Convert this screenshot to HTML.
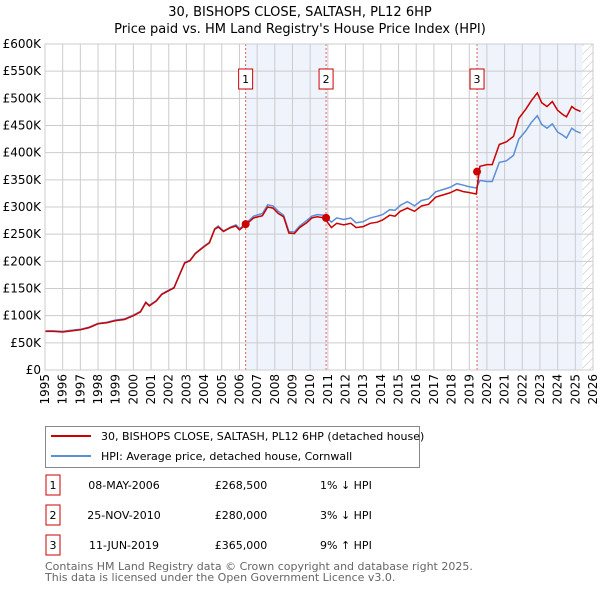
<!DOCTYPE html>
<html><head><meta charset="utf-8"><style>
body{margin:0;background:#fff;font-family:"Liberation Sans","DejaVu Sans",sans-serif;}
svg text{font-family:"DejaVu Sans","Liberation Sans",sans-serif;}
</style></head><body>
<svg id="chart" width="600" height="590" viewBox="0 0 600 590" xmlns="http://www.w3.org/2000/svg">
<defs><pattern id="hatch" width="6" height="6" patternUnits="userSpaceOnUse" patternTransform="rotate(45)"><line x1="0" y1="0" x2="0" y2="6" stroke="#bbb" stroke-width="1"/></pattern></defs>
<text x="300" y="16" font-size="13" text-anchor="middle">30, BISHOPS CLOSE, SALTASH, PL12 6HP</text>
<text x="300" y="33" font-size="13" text-anchor="middle">Price paid vs. HM Land Registry's House Price Index (HPI)</text>
<g id="plot"></g>
<g>
<rect x="45.5" y="426.5" width="374" height="41" fill="#fff" stroke="#888"/>
<line x1="51" y1="436" x2="91" y2="436" stroke="#cc0000" stroke-width="2"/>
<text x="101" y="440" font-size="11">30, BISHOPS CLOSE, SALTASH, PL12 6HP (detached house)</text>
<line x1="51" y1="456" x2="91" y2="456" stroke="#5b8fd6" stroke-width="2"/>
<text x="101" y="460" font-size="11">HPI: Average price, detached house, Cornwall</text>
</g>
<g font-size="11">
<rect x="46" y="475" width="14" height="20" fill="#fff" stroke="#cc0000"/><text x="53" y="489" text-anchor="middle">1</text>
<text x="124" y="489" text-anchor="middle">08-MAY-2006</text><text x="241" y="489" text-anchor="middle">£268,500</text><text x="320" y="489">1% ↓ HPI</text>
<rect x="46" y="505" width="14" height="20" fill="#fff" stroke="#cc0000"/><text x="53" y="519" text-anchor="middle">2</text>
<text x="124" y="519" text-anchor="middle">25-NOV-2010</text><text x="241" y="519" text-anchor="middle">£280,000</text><text x="320" y="519">3% ↓ HPI</text>
<rect x="46" y="535" width="14" height="20" fill="#fff" stroke="#cc0000"/><text x="53" y="549" text-anchor="middle">3</text>
<text x="124" y="549" text-anchor="middle">11-JUN-2019</text><text x="241" y="549" text-anchor="middle">£365,000</text><text x="320" y="549">9% ↑ HPI</text>
</g>
<text x="45" y="570" font-size="11" fill="#666">Contains HM Land Registry data © Crown copyright and database right 2025.</text>
<text x="45" y="581" font-size="11" fill="#666">This data is licensed under the Open Government Licence v3.0.</text>
</svg>
<script>
const yTicks=[0,50,100,150,200,250,300,350,400,450,500,550,600];
const yTickLabels=["£0","£50K","£100K","£150K","£200K","£250K","£300K","£350K","£400K","£450K","£500K","£550K","£600K"];
const xYears=[1995,1996,1997,1998,1999,2000,2001,2002,2003,2004,2005,2006,2007,2008,2009,2010,2011,2012,2013,2014,2015,2016,2017,2018,2019,2020,2021,2022,2023,2024,2025,2026];
const seriesYears=[1995.0,1995.5,1996.0,1996.5,1997.0,1997.5,1998.0,1998.5,1999.0,1999.5,2000.0,2000.4,2000.7,2000.9,2001.3,2001.6,2002.0,2002.3,2002.6,2002.9,2003.2,2003.5,2004.0,2004.3,2004.6,2004.8,2005.1,2005.5,2005.8,2006.0,2006.4,2006.8,2007.3,2007.6,2007.9,2008.2,2008.5,2008.8,2009.1,2009.4,2009.8,2010.1,2010.4,2010.8,2011.2,2011.5,2011.9,2012.3,2012.6,2013.0,2013.4,2013.8,2014.1,2014.5,2014.8,2015.1,2015.5,2015.9,2016.3,2016.7,2017.1,2017.5,2017.9,2018.3,2018.7,2018.9,2019.4,2019.6,2020.0,2020.3,2020.7,2021.1,2021.5,2021.8,2022.2,2022.5,2022.85,2023.1,2023.4,2023.7,2024.0,2024.3,2024.5,2024.8,2025.0,2025.3];
const hpiValues=[72,72,71,73,75,79,86,88,92,94,101,108,125,119,128,140,147,152,175,198,202,215,228,235,260,265,256,263,267,260,271,283,288,304,302,292,285,255,254,265,275,283,286,285,272,280,277,280,271,273,280,283,286,295,294,303,310,302,312,315,328,332,336,343,340,338,335,349,347,347,382,385,395,425,440,455,468,452,445,453,438,432,427,445,440,436];
const priceValues=[71,71,70,72,74,78,85,87,91,93,100,107,124,118,127,139,146,151,174,197,201,214,227,234,259,263,255,262,265,258,268.5,280,284,300,298,288,282,252,251,262,271,280,282,280,262,270,267,270,262,264,270,272,276,285,283,292,298,292,302,305,318,322,326,332,328,327,324,375,378,378,415,420,430,463,480,495,510,492,485,494,478,470,466,485,480,476];
const saleYears=[2006.35,2010.9,2019.44];
const saleValues=[268.5,280,365];
const saleLabels=["1","2","3"];
const NS="http://www.w3.org/2000/svg";
const L=45,R=593,T=44,B=370;
const xs=y=>L+(y-1995)/(2026-1995)*(R-L);
const ys=v=>B-v/600*(B-T);
const g=document.getElementById('plot');
function mk(tag,attrs,parent){const e=document.createElementNS(NS,tag);for(const k in attrs)e.setAttribute(k,attrs[k]);(parent||g).appendChild(e);return e;}
let e;
e=mk('rect',{x:L,y:T,width:R-L,height:B-T,fill:'#fff'});


e=mk('rect',{x:xs(saleYears[0]),y:T,width:xs(saleYears[1])-xs(saleYears[0]),height:B-T,fill:'#eef3fc'});


e=mk('rect',{x:xs(saleYears[2]),y:T,width:xs(2025.4)-xs(saleYears[2]),height:B-T,fill:'#eef3fc'});


e=mk('rect',{x:xs(2025.4),y:T,width:R-xs(2025.4),height:B-T,fill:'url(#hatch)'});


xYears.forEach((yr,i)=>{
 e=mk('line',{x1:xs(yr),x2:xs(yr),y1:T,y2:B,stroke:'#ccc','stroke-width':1});
 
 
 const tx=xs(yr)+4, ty=B+4;
 e=mk('text',{x:tx,y:ty,'font-size':12,'text-anchor':'end',transform:'rotate(-90 '+tx+' '+ty+')'});
 e.textContent=yr;
 
 
});
yTicks.forEach((v,i)=>{
 e=mk('line',{x1:L,x2:R,y1:ys(v),y2:ys(v),stroke:'#ccc','stroke-width':1});
 
 
 e=mk('text',{x:L-4,y:ys(v)+4,'font-size':12,'text-anchor':'end'});
 e.textContent=yTickLabels[i];
 
 
});
saleYears.forEach((yr,i)=>{
 e=mk('line',{x1:xs(yr),x2:xs(yr),y1:T,y2:B,stroke:'#e06060','stroke-width':1,'stroke-dasharray':'2,2'});
 
 
 const bx=xs(yr)-7;
 e=mk('rect',{x:bx,y:69,width:14,height:20,fill:'#fff',stroke:'#cc0000'});
 
 
 e=mk('text',{x:xs(yr),y:83,'font-size':11,'text-anchor':'middle'});
 e.textContent=saleLabels[i];
 
 
});
const path=vals=>vals.map((v,i)=>(i?'L':'M')+xs(seriesYears[i]).toFixed(1)+','+ys(v).toFixed(1)).join('');
e=mk('path',{d:path(hpiValues),fill:'none',stroke:'#5b8fd6','stroke-width':1.5});


e=mk('path',{d:path(priceValues),fill:'none',stroke:'#cc0000','stroke-width':1.5});


saleYears.forEach((yr,i)=>{
 e=mk('circle',{cx:xs(yr),cy:ys(saleValues[i]),r:4,fill:'#cc0000'});
 
 
});
e=mk('rect',{x:L,y:T,width:R-L,height:B-T,fill:'none',stroke:'#ccc'});


</script>
</body></html>
